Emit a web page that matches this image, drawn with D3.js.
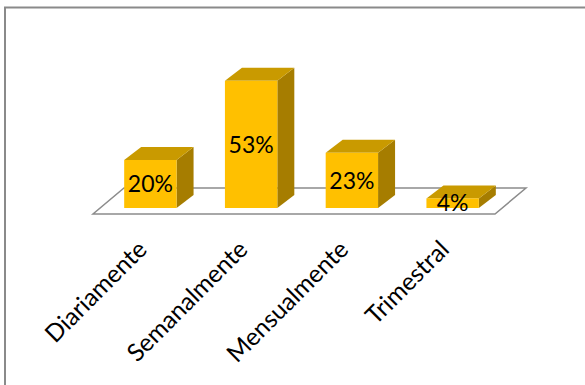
<!DOCTYPE html>
<html>
<head>
<meta charset="utf-8">
<script src="https://cdn.jsdelivr.net/npm/d3@7"></script>
<style>
  html, body { margin: 0; padding: 0; background: #fff; }
  svg { display: block; }
</style>
</head>
<body>
<svg id="chart" width="585" height="385"></svg>
<script>
// Frequency categories and their shares (%)
const categories = ["Diariamente", "Semanalmente", "Mensualmente", "Trimestral"];
const values = [20, 53, 23, 4];
const valueLabels = ["20%", "53%", "23%", "4%"];

const svg = d3.select("#chart");
const W = 585, H = 385;

// 3D offsets: floor depth and bar depth
const floorDx = 31, floorDy = -26;
const barDx = 17, barDy = -13;
const baseY = 208;

const x = d3.scaleBand()
  .domain(categories)
  .range([100, 503])
  .paddingInner(0.48)
  .paddingOuter(0.24);

const y = d3.scaleLinear()
  .domain([0, 60])
  .range([baseY, baseY - 144]);

// Outer frame (top and left edges)
svg.append("path")
  .attr("d", `M5,${H} L5,7.5 L${W},7.5`)
  .attr("fill", "none")
  .attr("stroke", "#8a8a8a")
  .attr("stroke-width", 2);

// Floor plane
const fl = 93, fr = 495, fy = 214;
svg.append("polygon")
  .attr("points", [
    [fl, fy], [fr, fy], [fr + floorDx, fy + floorDy], [fl + floorDx, fy + floorDy]
  ].map(p => p.join(",")).join(" "))
  .attr("fill", "#fff")
  .attr("stroke", "#8c8c8c")
  .attr("stroke-width", 1.5);

// Bars: front, top and right side faces
const bars = svg.append("g").selectAll("g")
  .data(categories.map((c, i) => ({ c, v: values[i], label: valueLabels[i] })))
  .join("g");

bars.each(function(d) {
  const g = d3.select(this);
  const x0 = x(d.c), x1 = x0 + x.bandwidth();
  const yt = y(d.v), yb = y(0);
  const pts = a => a.map(p => p.join(",")).join(" ");
  // right side
  g.append("polygon")
    .attr("points", pts([[x1, yt], [x1 + barDx, yt + barDy], [x1 + barDx, yb + barDy], [x1, yb]]))
    .attr("fill", "#a67d00");
  // top
  g.append("polygon")
    .attr("points", pts([[x0, yt], [x0 + barDx, yt + barDy], [x1 + barDx, yt + barDy], [x1, yt]]))
    .attr("fill", "#c99a00");
  // front
  g.append("rect")
    .attr("x", x0).attr("y", yt)
    .attr("width", x.bandwidth()).attr("height", yb - yt)
    .attr("fill", "#ffc000");
  // value label centred on the front face
  g.append("text")
    .attr("x", (x0 + x1) / 2)
    .attr("y", (yt + yb) / 2)
    .attr("dy", "0.36em")
    .attr("text-anchor", "middle")
    .attr("font-family", "Lato, 'Open Sans', sans-serif")
    .attr("font-size", 23)
    .attr("fill", "#000")
    .text(d.label);
});

// Rotated category labels
svg.append("g").selectAll("text")
  .data(categories)
  .join("text")
  .attr("transform", d => `translate(${x(d) + x.bandwidth() / 2 - 2},${251}) rotate(-45)`)
  .attr("text-anchor", "end")
  .attr("font-family", "Lato, 'Open Sans', sans-serif")
  .attr("font-size", 24.5)
  .attr("fill", "#000")
  .text(d => d);
</script>
</body>
</html>
